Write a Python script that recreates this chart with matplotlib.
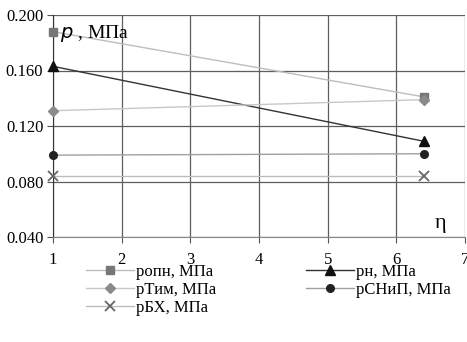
import matplotlib
matplotlib.use("Agg")
import matplotlib.pyplot as plt

plt.rcParams["font.family"] = ["Liberation Serif", "DejaVu Serif"]

eta = [1.0, 6.4]
p_opn = [0.188, 0.141]
p_n = [0.163, 0.109]
p_tim = [0.131, 0.139]
p_snip = [0.099, 0.100]
p_bh = [0.084, 0.084]

labels = ["ропн, МПа", "рн, МПа", "рТим, МПа", "рСНиП, МПа", "рБХ, МПа"]
x_ticks = [1, 2, 3, 4, 5, 6, 7]
y_ticks = [0.040, 0.080, 0.120, 0.160, 0.200]

fig = plt.figure(figsize=(4.67, 3.42), dpi=100)
ax = fig.add_axes([53 / 467, 1 - 237 / 342, 412 / 467, 222 / 342])

series = [
    (p_opn, dict(color="#bdbdbd", marker="s", mfc="#777777", mec="#777777", ms=5.5)),
    (p_n, dict(color="#333333", marker="^", mfc="#111111", mec="#111111", ms=7.5)),
    (p_tim, dict(color="#c8c8c8", marker="D", mfc="#8a8a8a", mec="#8a8a8a", ms=5)),
    (p_snip, dict(color="#a0a0a0", marker="o", mfc="#222222", mec="#222222", ms=5.5)),
    (p_bh, dict(color="#bdbdbd", marker="x", mfc="#666666", mec="#666666", ms=7, mew=1.3)),
]
handles = []
for values, style in series:
    h, = ax.plot(eta, values, lw=1.0, clip_on=False, zorder=3, **style)
    handles.append(h)

ax.set_xlim(1, 7)
ax.set_ylim(0.04, 0.2)
ax.set_xticks(x_ticks)
ax.set_yticks(y_ticks)
ax.set_yticklabels([f"{v:.3f}" for v in y_ticks])
ax.grid(True, color="#5e5e5e", lw=0.9)
ax.set_axisbelow(True)
for side in ("top", "right"):
    ax.spines[side].set_visible(False)
ax.spines["left"].set_color("#333333")
ax.spines["bottom"].set_color("#888888")
ax.tick_params(axis="both", labelsize=12, length=4, color="#555555", pad=3)
ax.tick_params(axis="x", pad=7)

ax.text(1.1, 0.187, "$p$ , МПа", fontsize=14, va="center", ha="left")
ax.text(6.65, 0.050, "η", fontsize=16, va="center", ha="center")

order = [0, 2, 4, 1, 3]
fig.legend(
    [handles[i] for i in order],
    [labels[i] for i in order],
    loc="upper left",
    bbox_to_anchor=(74 / 467, 1 - 252 / 342),
    ncol=2,
    frameon=False,
    fontsize=12,
    handlelength=2.9,
    handletextpad=0.1,
    columnspacing=5.4,
    labelspacing=0.12,
    borderpad=0.2,
)

fig.savefig("out.png", dpi=100)
